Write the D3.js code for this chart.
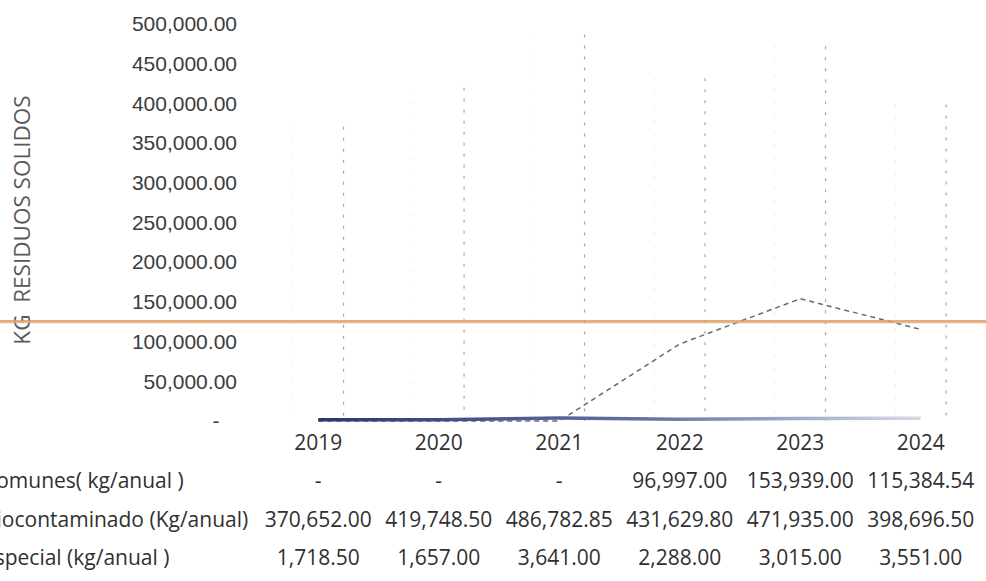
<!DOCTYPE html>
<html>
<head>
<meta charset="utf-8">
<script src="https://cdn.jsdelivr.net/npm/d3@7"></script>
<style>
  body { margin: 0; background: #fff; }
  svg { display: block; font-family: 'Open Sans', sans-serif; }
  .ytick text { fill: #3c3c3c; font-size: 21px; }
  .cell { fill: #303030; font-size: 21px; }
</style>
</head>
<body>
<div id="chart"></div>
<script>
// categorias (años)
var years = ['2019', '2020', '2021', '2022', '2023', '2024'];

// series
var seriesNames = ['Comunes( kg/anual )', 'Biocontaminado (Kg/anual)', 'Especial (kg/anual )'];
var comunes = [0, 0, 0, 96997.00, 153939.00, 115384.54];
var biocontaminado = [370652.00, 419748.50, 486782.85, 431629.80, 471935.00, 398696.50];
var especial = [1718.50, 1657.00, 3641.00, 2288.00, 3015.00, 3551.00];

// eje Y
var yTicks = [0, 50000, 100000, 150000, 200000, 250000, 300000, 350000, 400000, 450000, 500000];

// marca naranja que cruza la hoja
var markValue = 125000;

(function() {
  var width = 986;
  var height = 581;

  var fmt = d3.format(',.2f');
  function acct(v) {
    return v === 0 ? '-' : fmt(v);
  }

  var svg = d3.select('#chart').append('svg')
    .attr('width', width).attr('height', height);

  // escalas
  var x = d3.scaleBand().domain(years).range([258, 981])
    .paddingInner(0.58).paddingOuter(0.29);
  var y = d3.scaleLinear().domain([0, 500000]).range([421, 24]);

  function cx(d) {
    return x(d) + x.bandwidth() / 2;
  }

  // gradiente para la linea de especial (se desvanece a la derecha)
  var grad = svg.append('defs').append('linearGradient')
    .attr('id', 'fade').attr('x1', '0%').attr('x2', '100%');
  grad.append('stop').attr('offset', '0%').attr('stop-color', '#2a3872');
  grad.append('stop').attr('offset', '55%').attr('stop-color', '#6474a2');
  grad.append('stop').attr('offset', '100%').attr('stop-color', '#d6dae6');

  // eje Y, solo etiquetas
  var yAxis = svg.append('g')
    .attr('class', 'ytick')
    .attr('transform', 'translate(237,0)')
    .call(d3.axisLeft(y).tickValues(yTicks).tickSize(0).tickPadding(0)
      .tickFormat(function(d) { return d === 0 ? '-\u00a0\u00a0\u00a0' : fmt(d); }));
  yAxis.select('.domain').remove();

  // titulo del eje Y
  svg.append('text')
    .attr('transform', 'translate(21,220) rotate(-90)')
    .attr('text-anchor', 'middle')
    .attr('dominant-baseline', 'central')
    .attr('fill', '#5a5a5a')
    .style('font-size', '22.5px')
    .style('white-space', 'pre')
    .text('KG  RESIDUOS SOLIDOS');

  // columnas de biocontaminado (casi borradas en el original, solo quedan los bordes)
  var bars = svg.append('g');
  bars.selectAll('line.r').data(biocontaminado).enter().append('line')
    .attr('class', 'r')
    .attr('x1', function(d, i) { return x(years[i]) + x.bandwidth(); })
    .attr('x2', function(d, i) { return x(years[i]) + x.bandwidth(); })
    .attr('y1', function(d) { return y(d); })
    .attr('y2', y(0))
    .attr('stroke', '#a3a8a8')
    .attr('stroke-width', 1.2)
    .attr('stroke-dasharray', '3,8');
  bars.selectAll('line.l').data(biocontaminado).enter().append('line')
    .attr('class', 'l')
    .attr('x1', function(d, i) { return x(years[i]); })
    .attr('x2', function(d, i) { return x(years[i]); })
    .attr('y1', function(d) { return y(d); })
    .attr('y2', y(0))
    .attr('stroke', '#e6e9e9')
    .attr('stroke-width', 1)
    .attr('stroke-dasharray', '2,12');

  // linea de comunes
  var line = d3.line()
    .x(function(d, i) { return cx(years[i]); })
    .y(function(d) { return y(d); });

  svg.append('path')
    .datum(comunes)
    .attr('d', line)
    .attr('fill', 'none')
    .attr('stroke', '#5f6e6e')
    .attr('stroke-width', 1.5)
    .attr('stroke-dasharray', '5,4');

  // linea de especial
  svg.append('path')
    .datum(especial)
    .attr('d', line)
    .attr('fill', 'none')
    .attr('stroke', 'url(#fade)')
    .attr('stroke-width', 3.5);

  // marca naranja horizontal
  svg.append('line')
    .attr('x1', 0).attr('x2', width)
    .attr('y1', y(markValue)).attr('y2', y(markValue))
    .attr('stroke', '#e4ab70')
    .attr('stroke-width', 3)
    .attr('opacity', 0.85);
  svg.append('line')
    .attr('x1', 0).attr('x2', width)
    .attr('y1', y(markValue) - 1).attr('y2', y(markValue) - 1)
    .attr('stroke', '#d7784f')
    .attr('stroke-width', 0.8)
    .attr('opacity', 0.6);

  // tabla de datos
  var tx = d3.scaleBand().domain(years).range([258, 981])
    .paddingInner(0.58).paddingOuter(0.29);
  var rowY = [443, 481, 520, 558];
  var table = svg.append('g');

  table.selectAll('text.year').data(years).enter().append('text')
    .attr('class', 'cell year')
    .attr('x', function(d) { return tx(d) + tx.bandwidth() / 2; })
    .attr('y', rowY[0])
    .attr('text-anchor', 'middle')
    .attr('dy', '0.35em')
    .text(function(d) { return d; });

  [comunes, biocontaminado, especial].forEach(function(values, r) {
    table.append('text')
      .attr('class', 'cell')
      .attr('x', -17)
      .attr('y', rowY[r + 1])
      .attr('dy', '0.35em')
      .text(seriesNames[r]);
    table.selectAll('text.v' + r).data(values).enter().append('text')
      .attr('class', 'cell v' + r)
      .attr('x', function(d, i) { return tx(years[i]) + tx.bandwidth() / 2; })
      .attr('y', rowY[r + 1])
      .attr('text-anchor', 'middle')
      .attr('dy', '0.35em')
      .text(acct);
  });
})();
</script>
</body>
</html>
